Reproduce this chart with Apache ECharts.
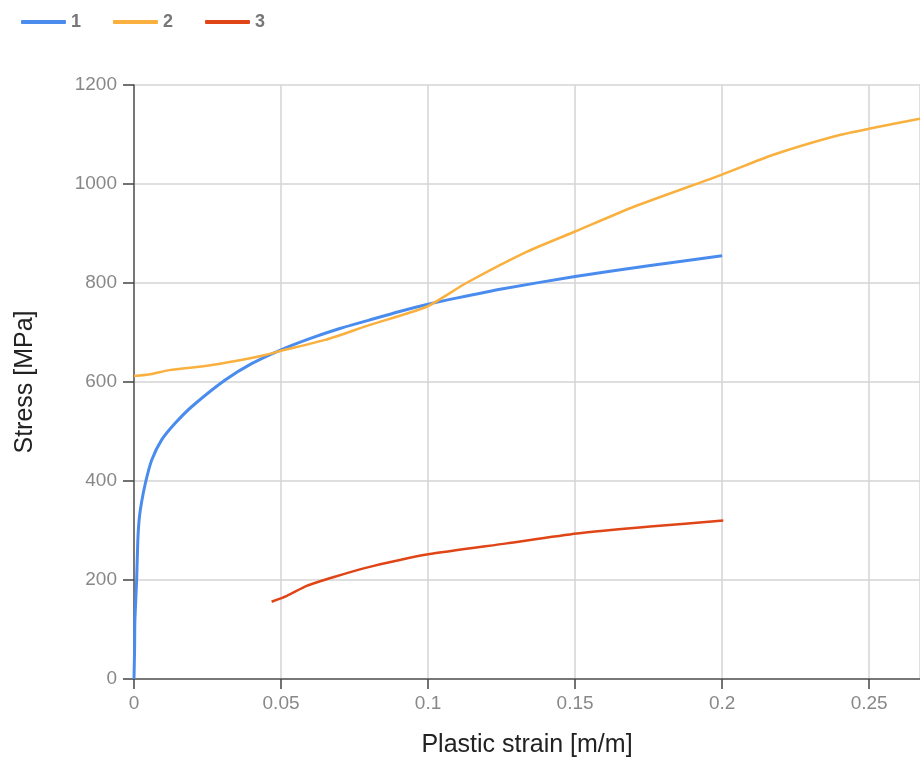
<!DOCTYPE html>
<html>
<head>
<meta charset="utf-8">
<script src="https://cdn.jsdelivr.net/npm/echarts@6/dist/echarts.min.js"></script>
<style>
html, body { margin: 0; padding: 0; background: #fff; }
#main { width: 920px; height: 765px; }
</style>
</head>
<body>
<div id="main"></div>
<script>
// series names
var names = ['1', '2', '3'];
// [strain, stress] pairs
var curve1 = [[0,0],[0.0002,60],[0.0003,119],[0.0009,200],[0.0013,280],[0.0018,325],[0.0026,358],[0.004,399],
    [0.006,442],[0.0094,483],[0.0139,516],[0.0196,550],[0.031,604],[0.04,637],[0.05,665],
    [0.06,688],[0.07,708],[0.08,725],[0.09,742],[0.1,757],[0.11,770],[0.125,788],[0.15,813],
    [0.175,835],[0.2,855]];
var curve2 = [[0,612],[0.005,615],[0.012,624],[0.025,633],[0.035,643],[0.045,655],[0.05,663],
    [0.065,685],[0.08,715],[0.0995,752],[0.113,800],[0.1335,863],[0.15,904],[0.17,954],
    [0.2,1019],[0.2174,1059],[0.238,1096],[0.2503,1112],[0.2673,1132]];
var curve3 = [[0.0468,156],[0.052,168],[0.0587,188],[0.068,206],[0.0791,225],[0.09,240],
    [0.1001,252],[0.1267,274],[0.1506,294],[0.1755,308],[0.2004,320]];
var colors = ['#4a8cee', '#f9b03e', '#df4516'];

var chart = echarts.init(document.getElementById('main'));
var option = {
    animation: false,
    color: colors,
    textStyle: { fontFamily: 'Liberation Sans, Arial, sans-serif' },
    legend: {
        left: 16,
        top: 8,
        itemWidth: 45,
        itemHeight: 4,
        itemGap: 32,
        icon: 'roundRect',
        textStyle: { color: '#777', fontSize: 18, fontWeight: 'bold' },
        data: names
    },
    grid: { left: 134, top: 85, right: 0, bottom: 86 },
    xAxis: {
        type: 'value',
        min: 0,
        max: 0.2673,
        interval: 0.05,
        name: 'Plastic strain [m/m]',
        nameLocation: 'middle',
        nameGap: 54,
        nameTextStyle: { color: '#222', fontSize: 25 },
        axisLine: { show: true, lineStyle: { color: '#555', width: 1.5 } },
        axisTick: { show: true, length: 10, lineStyle: { color: '#444', width: 1.5 } },
        axisLabel: { color: '#888', fontSize: 19, margin: 15, showMaxLabel: false },
        splitLine: { show: true, lineStyle: { color: '#d4d4d4', width: 1.5 } }
    },
    yAxis: {
        type: 'value',
        min: 0,
        max: 1200,
        interval: 200,
        name: 'Stress [MPa]',
        nameLocation: 'middle',
        nameGap: 96,
        nameTextStyle: { color: '#222', fontSize: 25 },
        axisLine: { show: true, lineStyle: { color: '#555', width: 1.5 } },
        axisTick: { show: true, length: 11, lineStyle: { color: '#444', width: 1.5 } },
        axisLabel: { color: '#888', fontSize: 19, margin: 17, formatter: function (v) { return String(v); } },
        splitLine: { show: true, lineStyle: { color: '#d4d4d4', width: 1.5 } }
    },
    series: [
        { name: names[0], type: 'line', data: curve1, showSymbol: false, smooth: 0.2, lineStyle: { width: 3 } },
        { name: names[1], type: 'line', data: curve2, showSymbol: false, smooth: 0.2, lineStyle: { width: 2.5 } },
        { name: names[2], type: 'line', data: curve3, showSymbol: false, smooth: 0.2, lineStyle: { width: 2.5 } }
    ]
};
chart.setOption(option);
</script>
</body>
</html>
